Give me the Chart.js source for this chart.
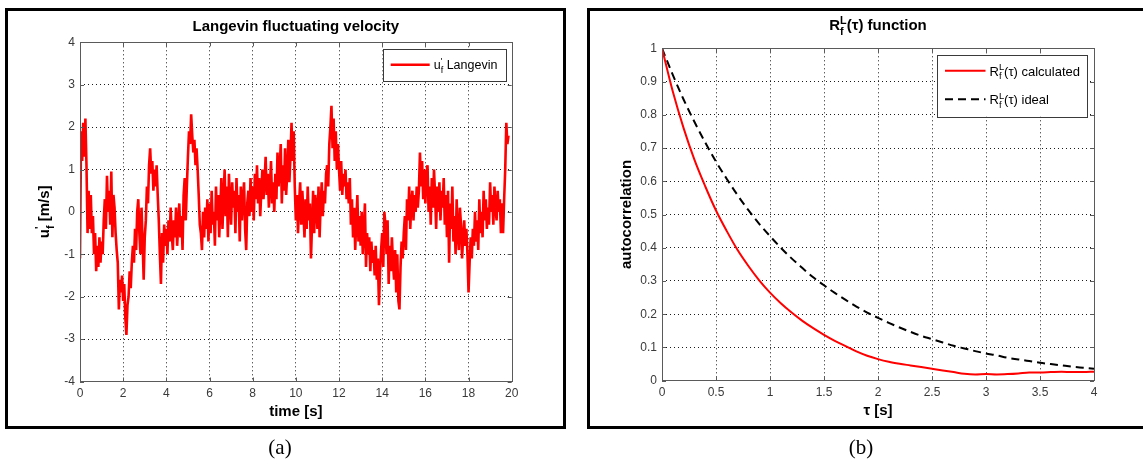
<!DOCTYPE html>
<html>
<head>
<meta charset="utf-8">
<script src="https://cdn.jsdelivr.net/npm/chart.js@4/dist/chart.umd.min.js"></script>
<style>
  body { margin: 0; background: #fff; }
  #page { position: relative; width: 1143px; height: 464px; overflow: hidden; background: #fff; }
  .panel { position: absolute; box-sizing: border-box; border: 3px solid #000; }
  .cap { position: absolute; width: 60px; text-align: center; font: 21px "Liberation Serif", "Times New Roman", serif; line-height: 22px; color: #000; }
  canvas { position: absolute; top: 0; }
</style>
</head>
<body>
<div id="page">
  <div class="panel" style="left:4.5px; top:7.5px; width:561px; height:421px;"></div>
  <div class="panel" style="left:586.5px; top:7.5px; width:570px; height:421px;"></div>
  <canvas id="chartVelocity" width="572" height="464" style="left:0;"></canvas>
  <canvas id="chartAutocorr" width="568" height="464" style="left:575px;"></canvas>
  <div class="cap" style="left:250px; top:436px;">(a)</div>
  <div class="cap" style="left:831px; top:436px;">(b)</div>
</div>
<script>
// ---- datos (a): velocidad fluctuante, muestreo cada 0.05 s ----
const velStep = 0.05;
const velocity = [
  -1.1, 1.9, 1.2, 2.1, 1.3, 2.2, 1.1, -0.5, 0.5, -0.4, 0.4, -0.5, -0.1, -1.0, -0.5, -1.4, -0.8, -1.3, -0.6, -1.2,
  -0.7, -1.0, -0.2, 0.3, -0.4, 0.85, 0.0, 0.5, -0.3, 0.95, -0.6, 0.4, 0.1, -0.5, -0.9, -1.2, -2.3, -1.6, -1.9, -1.5,
  -2.1, -1.7, -2.5, -2.9, -2.2, -2.0, -1.4, -1.8, -1.2, -0.8, -1.2, -0.4, -0.9, 0.0, 0.3, -0.5, -1.0, 0.1, -0.7, -1.6,
  -0.6, -0.2, 0.6, 0.2, 1.1, 1.5, 0.9, 1.2, 0.5, 1.0, 0.6, 1.1, 0.4, -0.2, -1.0, -1.7, -0.5, -1.2, -0.3, -0.8,
  -0.4, -1.0, -0.2, -0.7, 0.1, -0.5, -0.9, -0.2, -0.6, 0.1, -0.8, -0.3, 0.2, -0.6, -0.1, -0.9, 0.4, 0.8, -0.2, 0.6,
  1.3, 1.9, 1.6, 2.3, 1.8, 1.4, 1.7, 1.1, 1.5, 1.0, 0.4, -0.3, -0.5, -0.9, 0.0, -0.6, 0.1, -0.4, 0.3, -0.7,
  0.2, -0.5, 0.5, -0.3, 0.0, -0.8, 0.6, -0.2, 0.4, -0.6, 0.1, 0.8, -0.4, 0.3, 1.0, -0.1, 0.6, -0.6, 0.9, 0.2,
  -0.3, 0.7, 0.1, 0.5, -0.5, 0.8, 0.0, 0.4, -0.7, 0.6, -0.2, 0.3, 0.7, -0.4, -0.9, 0.2, 0.5, -0.1, 0.8, 0.0,
  0.6, -0.2, 0.9, 0.3, 1.1, 0.2, 0.8, -0.1, 0.5, 1.0, 0.3, 0.7, 1.3, 0.4, 0.9, 0.1, 0.6, 1.2, 0.2, 0.7,
  0.0, 0.9, 0.3, 1.4, 0.6, 1.0, 1.6, 0.2, 1.1, 0.5, 1.5, 0.4, 0.9, 1.7, 0.7, 1.3, 2.1, 1.2, 1.9, 0.6,
  -0.2, 0.4, -0.5, 0.2, 0.7, -0.3, 0.5, 0.0, -0.6, 0.3, -0.4, 0.6, -0.2, 0.2, -1.1, -0.3, 0.5, -0.5, 0.4, 0.1,
  -0.4, 0.6, -0.6, 0.2, 0.7, -0.1, 0.5, 0.2, 0.9, 1.1, 0.6, 1.6, 2.0, 2.5, 1.5, 2.2, 1.2, 1.9, 1.0, 1.6,
  1.0, 0.5, 1.2, 0.4, 0.9, 0.6, 1.0, 0.3, 0.7, 0.2, 0.8, -0.3, 0.3, -0.6, 0.1, -0.9, -0.2, 0.4, -0.7, -0.1,
  -0.8, 0.0, -1.0, -0.4, 0.2, -1.3, -0.5, -1.0, -0.6, -1.4, -0.7, -1.2, -0.9, -1.5, -0.8, -1.6, -1.1, -2.2, -1.4, -0.9,
  -0.5, -1.3, 0.0, -0.3, -1.0, -0.2, -1.7, -0.8, -1.4, -0.6, -1.2, -1.6, -0.9, -1.9, -1.0, -2.1, -2.3, -1.3, -0.7, -1.1,
  -0.5, -0.1, -0.9, 0.3, -0.2, 0.6, -0.4, 0.2, 0.5, -0.2, 0.4, 0.0, 0.6, 0.1, 0.5, 1.4, 0.6, 1.2, 0.3, 1.0,
  0.2, 0.9, 1.1, 0.0, 0.6, -0.3, 0.8, 0.1, 1.0, 0.4, -0.4, 0.6, 0.0, 0.7, -0.2, 0.5, 0.1, 0.8, -0.3, 0.4,
  -0.6, 0.5, -1.2, 0.2, -0.4, 0.6, -0.7, -0.1, -1.0, 0.3, -0.5, -0.9, 0.1, -0.3, -1.1, -0.6, -0.2, -0.8, -0.4, -1.0,
  -1.9, -1.2, -0.6, -1.1, -0.4, -0.8, 0.0, -0.7, -0.2, -0.9, 0.3, -0.5, 0.0, -0.6, 0.5, -0.2, 0.3, -0.4, 0.1, -0.3,
  0.7, 0.0, 0.4, -0.3, 0.6, 0.1, -0.2, 0.5, 0.0, 0.3, -0.5, 0.2, -0.5, 0.3, 1.0, 2.1, 1.6, 1.8
];

// ---- datos (b): autocorrelación ----
const tau = [0, 0.1, 0.2, 0.3, 0.4, 0.5, 0.6, 0.7, 0.8, 0.9, 1.0, 1.1, 1.2, 1.3, 1.4, 1.5, 1.6, 1.7, 1.8, 1.9,
             2.0, 2.1, 2.2, 2.3, 2.4, 2.5, 2.6, 2.7, 2.8, 2.9, 3.0, 3.1, 3.2, 3.3, 3.4, 3.5, 3.6, 3.7, 3.8, 3.9, 4.0];
const rCalculated = [1.00, 0.87, 0.76, 0.665, 0.585, 0.512, 0.45, 0.393, 0.345, 0.302, 0.265, 0.233, 0.205, 0.18, 0.158,
                     0.138, 0.12, 0.104, 0.088, 0.075, 0.065, 0.057, 0.051, 0.046, 0.041, 0.036, 0.031, 0.026, 0.021,
                     0.019, 0.020, 0.019, 0.020, 0.022, 0.025, 0.025, 0.026, 0.027, 0.026, 0.026, 0.027];
const rIdeal = [1.00, 0.920, 0.846, 0.779, 0.717, 0.659, 0.607, 0.558, 0.513, 0.472, 0.435, 0.400, 0.368, 0.339,
                0.311, 0.287, 0.264, 0.243, 0.223, 0.205, 0.189, 0.174, 0.160, 0.147, 0.135, 0.125, 0.115, 0.105,
                0.097, 0.089, 0.082, 0.076, 0.069, 0.064, 0.059, 0.054, 0.050, 0.046, 0.042, 0.039, 0.036];

const FAMILY = '"Liberation Sans", Arial, sans-serif';
const TICK_FONT = { family: FAMILY, size: 12 };
const TICK_COLOR = '#3a3a3a';

// texto con sub/superíndices apilados: partes = strings o {sup, sub}
function drawRich(ctx, parts, x, y, size, bold, align) {
    const f = s => (bold ? 'bold ' : '') + s + 'px ' + FAMILY;
    const small = size * 0.72;
    let w = 0;
    const items = parts.map(p => {
        let m;
        if (typeof p === 'string') { ctx.font = f(size); m = ctx.measureText(p).width; }
        else { ctx.font = f(small); m = Math.max(ctx.measureText(p.sup || '').width, ctx.measureText(p.sub || '').width); }
        w += m;
        return { p, m };
    });
    let cx = align === 'center' ? x - w / 2 : x;
    ctx.textAlign = 'left';
    ctx.textBaseline = 'alphabetic';
    items.forEach(({ p, m }) => {
        if (typeof p === 'string') { ctx.font = f(size); ctx.fillText(p, cx, y); }
        else {
            ctx.font = f(small);
            if (p.sup) ctx.fillText(p.sup, cx, y - size * 0.42);
            if (p.sub) ctx.fillText(p.sub, cx, y + size * 0.3);
        }
        cx += m;
    });
}

// caja de ejes, marcas, títulos y leyenda estilo MATLAB
const matlabFrame = {
    id: 'matlabFrame',
    afterDraw(chart) {
        const o = chart.options.plugins.matlabFrame;
        const ctx = chart.ctx, a = chart.chartArea;
        const sx = chart.scales.x, sy = chart.scales.y;
        ctx.save();
        ctx.strokeStyle = '#5a5a5a';
        ctx.lineWidth = 1;
        ctx.strokeRect(Math.round(a.left) + 0.5, Math.round(a.top) + 0.5, Math.round(a.right - a.left), Math.round(a.bottom - a.top));
        ctx.beginPath();
        sx.ticks.forEach(t => {
            const px = Math.round(sx.getPixelForValue(t.value)) + 0.5;
            ctx.moveTo(px, a.bottom); ctx.lineTo(px, a.bottom - 4);
            ctx.moveTo(px, a.top); ctx.lineTo(px, a.top + 4);
        });
        sy.ticks.forEach(t => {
            const py = Math.round(sy.getPixelForValue(t.value)) + 0.5;
            ctx.moveTo(a.left, py); ctx.lineTo(a.left + 4, py);
            ctx.moveTo(a.right, py); ctx.lineTo(a.right - 4, py);
        });
        ctx.stroke();

        ctx.fillStyle = '#000';
        const cxMid = (a.left + a.right) / 2;
        drawRich(ctx, o.title, cxMid, a.top - o.titleGap, 15, true, 'center');
        drawRich(ctx, o.xLabel, cxMid, a.bottom + 34, 15, true, 'center');
        ctx.save();
        ctx.translate(a.left - o.yLabelGap, (a.top + a.bottom) / 2);
        ctx.rotate(-Math.PI / 2);
        drawRich(ctx, o.yLabel, 0, 0, 15, true, 'center');
        ctx.restore();

        // leyenda
        const lg = o.legend;
        const lx = a.right - lg.inset - lg.width, ly = a.top + lg.top;
        ctx.fillStyle = '#fff';
        ctx.fillRect(lx, ly, lg.width, lg.height);
        ctx.strokeStyle = '#3a3a3a';
        ctx.lineWidth = 1;
        ctx.strokeRect(Math.round(lx) + 0.5, Math.round(ly) + 0.5, Math.round(lg.width), Math.round(lg.height));
        lg.rows.forEach((r, i) => {
            const ds = chart.data.datasets[i];
            const ry = ly + r.y;
            ctx.beginPath();
            ctx.strokeStyle = ds.borderColor;
            ctx.lineWidth = ds.borderWidth;
            ctx.setLineDash(ds.borderDash || []);
            ctx.moveTo(lx + 8, ry); ctx.lineTo(lx + lg.sample, ry);
            ctx.stroke();
            ctx.setLineDash([]);
            ctx.fillStyle = '#000';
            drawRich(ctx, r.text, lx + lg.sample + 4, ry + lg.size * 0.37, lg.size, false, 'left');
        });
        ctx.restore();
    }
};

function gridColor(min, max) {
    return c => (c.tick && (Math.abs(c.tick.value - min) < 1e-9 || Math.abs(c.tick.value - max) < 1e-9)) ? 'rgba(0,0,0,0)' : '#1a1a1a';
}

function axis(min, max, step, fit, pad) {
    return {
        type: 'linear', min: min, max: max,
        ticks: { stepSize: step, font: TICK_FONT, color: TICK_COLOR, padding: pad, maxRotation: 0, autoSkip: false,
                 callback: v => String(Math.round(v * 10) / 10) },
        grid: { color: gridColor(min, max), lineWidth: 1, drawTicks: false },
        border: { display: false, dash: [1, 3] },
        afterFit: fit
    };
}

// (a) velocidad de Langevin
new Chart(document.getElementById('chartVelocity'), {
    type: 'line',
    data: {
        datasets: [{
            label: "u'f Langevin",
            data: velocity.map((v, i) => ({ x: i * velStep, y: v })),
            borderColor: '#ff0000',
            borderWidth: 2.6,
            pointRadius: 0,
            tension: 0
        }]
    },
    options: {
        responsive: false,
        animation: false,
        layout: { padding: { left: 40, top: 42.3, right: 60.3, bottom: 52.5 } },
        plugins: {
            legend: { display: false },
            tooltip: { enabled: false },
            matlabFrame: {
                title: ['Langevin fluctuating velocity'],
                titleGap: 11,
                xLabel: ['time [s]'],
                yLabel: ['u', { sup: "'", sub: 'f' }, ' [m/s]'],
                yLabelGap: 31,
                legend: { width: 122.6, height: 32.4, inset: 6.4, top: 7, sample: 47, size: 12.5,
                          rows: [{ y: 15.5, text: ['u', { sup: "'", sub: 'f' }, ' Langevin'] }] }
            }
        },
        scales: {
            x: axis(0, 20, 2, s => { s.height = 30; }, 5),
            y: axis(-4, 4, 1, s => { s.width = 40; }, 5)
        }
    },
    plugins: [matlabFrame]
});

// (b) función de autocorrelación
new Chart(document.getElementById('chartAutocorr'), {
    type: 'line',
    data: {
        datasets: [{
            label: 'calculated',
            data: tau.map((t, i) => ({ x: t, y: rCalculated[i] })),
            borderColor: '#ff0000',
            borderWidth: 2,
            pointRadius: 0,
            cubicInterpolationMode: 'monotone'
        }, {
            label: 'ideal',
            data: tau.map((t, i) => ({ x: t, y: rIdeal[i] })),
            borderColor: '#000000',
            borderWidth: 2,
            borderDash: [8, 5],
            pointRadius: 0,
            cubicInterpolationMode: 'monotone'
        }]
    },
    options: {
        responsive: false,
        animation: false,
        layout: { padding: { left: 47, top: 48.3, right: 49, bottom: 53.3 } },
        plugins: {
            legend: { display: false },
            tooltip: { enabled: false },
            matlabFrame: {
                title: ['R', { sup: 'L', sub: 'f' }, '(τ) function'],
                titleGap: 18,
                xLabel: ['τ [s]'],
                yLabel: ['autocorrelation'],
                yLabelGap: 31,
                legend: { width: 150, height: 61.7, inset: 7, top: 6.7, sample: 48.5, size: 13,
                          rows: [{ y: 15.7, text: ['R', { sup: 'L', sub: 'f' }, '(τ) calculated'] },
                                 { y: 44.3, text: ['R', { sup: 'L', sub: 'f' }, '(τ) ideal'] }] }
            }
        },
        scales: {
            x: axis(0, 4, 0.5, s => { s.height = 30; }, 5),
            y: axis(0, 1, 0.1, s => { s.width = 40; }, 5)
        }
    },
    plugins: [matlabFrame]
});
</script>
</body>
</html>
